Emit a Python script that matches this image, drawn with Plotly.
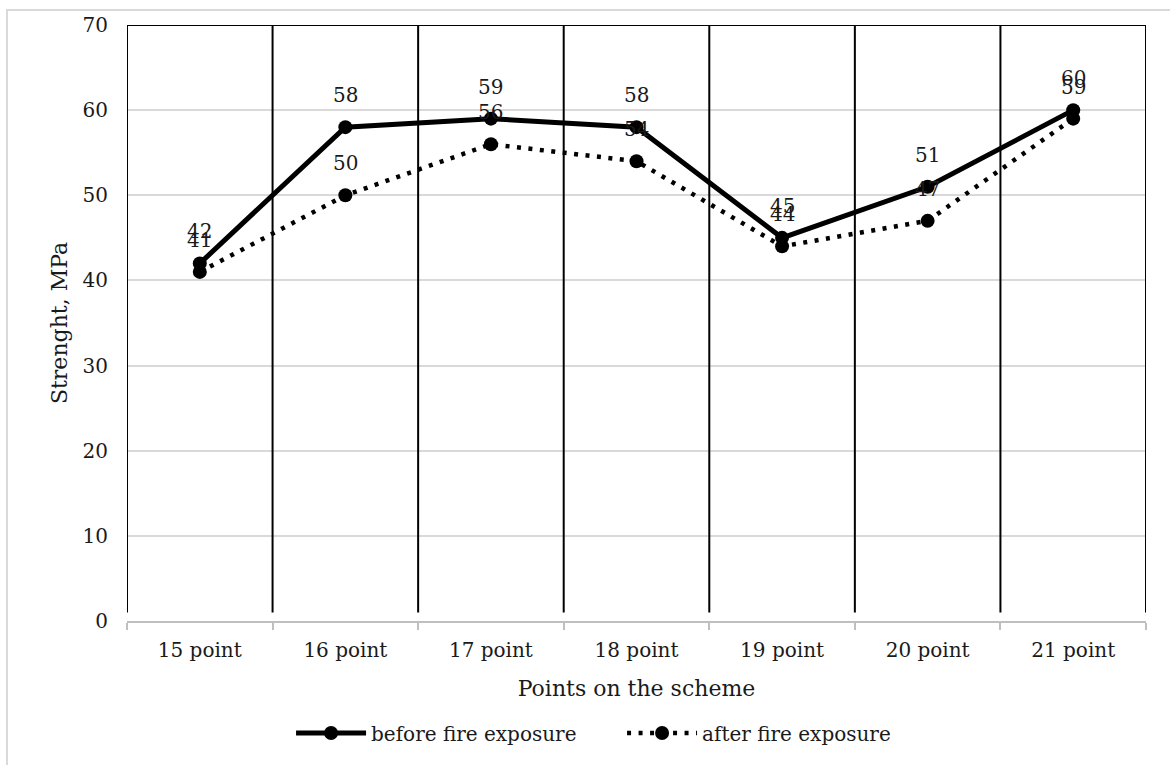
import plotly.graph_objects as go

# Compressive strength at each point of the scheme
categories = ["15 point", "16 point", "17 point", "18 point", "19 point", "20 point", "21 point"]
before_fire = [42, 58, 59, 58, 45, 51, 60]
after_fire = [41, 50, 56, 54, 44, 47, 59]
y_ticks = [0, 10, 20, 30, 40, 50, 60, 70]

FONT = "DejaVu Serif"
FS = 20        # tick labels, data labels, legend
FS_TITLE = 22  # axis titles

fig = go.Figure()

fig.add_trace(go.Scatter(
    x=categories, y=before_fire, name="before fire exposure",
    mode="lines+markers",
    line=dict(color="black", width=5),
    marker=dict(color="black", size=14),
))
fig.add_trace(go.Scatter(
    x=categories, y=after_fire, name="after fire exposure",
    mode="lines+markers",
    line=dict(color="black", width=4.5, dash="4px,7.5px"),
    marker=dict(color="black", size=14),
))

# value labels above each point
annotations = []
for series in (before_fire, after_fire):
    for cat, val in zip(categories, series):
        annotations.append(dict(
            x=cat, y=val, xref="x", yref="y", text=str(val),
            showarrow=False, yshift=32,
            font=dict(family=FONT, size=FS, color="#1a1a1a"),
        ))

# black separators at the category boundaries and the frame top
shapes = []
for i in range(len(categories) + 1):
    shapes.append(dict(
        type="line", xref="x", yref="y",
        x0=i - 0.5, x1=i - 0.5, y0=1, y1=y_ticks[-1],
        line=dict(color="black", width=2),
    ))
shapes.append(dict(
    type="line", xref="x", yref="y",
    x0=-0.5, x1=len(categories) - 0.5, y0=y_ticks[-1], y1=y_ticks[-1],
    line=dict(color="black", width=2),
))
# chart area border
shapes.append(dict(
    type="rect", xref="paper", yref="paper",
    x0=-0.1178, x1=1.04, y0=-0.27, y1=1.0252,
    line=dict(color="#d9d9d9", width=2), layer="below",
))

fig.update_layout(
    width=1170, height=765,
    margin=dict(l=127, r=24, t=25, b=144),
    paper_bgcolor="white", plot_bgcolor="white",
    font=dict(family=FONT, size=FS, color="#1a1a1a"),
    showlegend=True,
    legend=dict(
        orientation="h", x=0.161, xanchor="left", y=-0.188, yanchor="middle",
        font=dict(family=FONT, size=FS, color="#1a1a1a"),
        itemwidth=70,
        entrywidth=246, entrywidthmode="pixels",
    ),
    annotations=annotations,
    shapes=shapes,
    xaxis=dict(
        title=dict(text="Points on the scheme", font=dict(size=FS_TITLE), standoff=20),
        range=[-0.5, len(categories) - 0.5],
        tickson="boundaries", ticks="outside", ticklen=7, tickcolor="#bfbfbf", tickwidth=1.5,
        showgrid=False, showline=True, linecolor="#bfbfbf", linewidth=2,
        ticklabelstandoff=10,
        tickfont=dict(size=FS),
    ),
    yaxis=dict(
        title=dict(text="Strenght, MPa", font=dict(size=FS_TITLE), standoff=8),
        range=[0, 70], tickvals=y_ticks,
        showgrid=True, gridcolor="#d9d9d9", gridwidth=1.5,
        zeroline=False, showline=False, ticks="",
        ticklabelstandoff=18,
        tickfont=dict(size=FS),
    ),
)

fig.write_html("out.html")
